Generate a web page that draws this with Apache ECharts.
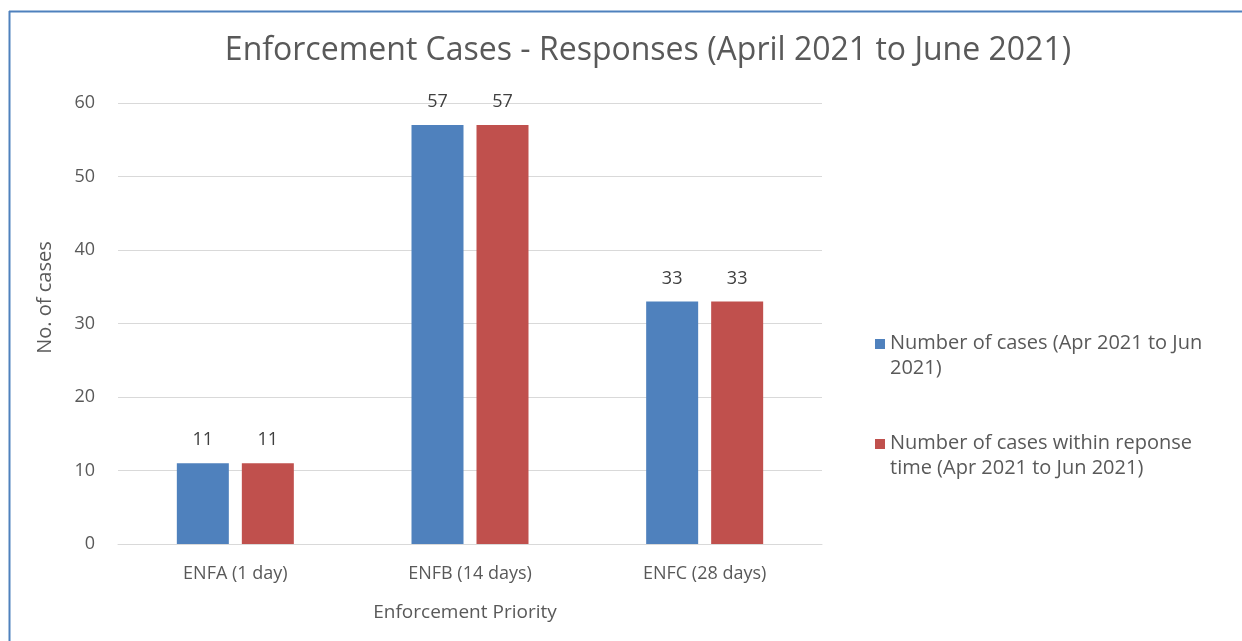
<!DOCTYPE html>
<html><head><meta charset="utf-8">
<script src="https://cdn.jsdelivr.net/npm/echarts@6/dist/echarts.min.js"></script>
<style>html,body{margin:0;padding:0;background:#fff}#c{width:1242px;height:641px}</style>
</head><body><div id="c"></div>
<script>
const categories = ['ENFA (1 day)', 'ENFB (14 days)', 'ENFC (28 days)'];
const totalCases = [11, 57, 33];
const withinTime = [11, 57, 33];
const seriesNames = ['Number of cases (Apr 2021 to Jun 2021)', 'Number of cases within reponse time (Apr 2021 to Jun 2021)'];
const legendLabels = ['Number of cases (Apr 2021 to Jun\n2021)', 'Number of cases within reponse\ntime (Apr 2021 to Jun 2021)'];
const titleText = 'Enforcement Cases - Responses (April 2021 to June 2021)';
const F = 'Open Sans';
const chart = echarts.init(document.getElementById('c'));
const lab = {show:true, position:'top', distance:14, color:'#404040', fontSize:18, fontFamily:F};
chart.setOption({
  animation:false,
  title:{text:titleText, left:643, textAlign:'center', top:30, textStyle:{fontFamily:F, fontSize:32, fontWeight:'normal', color:'#595959'}},
  graphic:[
    {type:'line', shape:{x1:9.5,y1:11,x2:9.5,y2:641}, style:{stroke:'#4F81BD', lineWidth:2}},
    {type:'line', shape:{x1:9,y1:11.5,x2:1242,y2:11.5}, style:{stroke:'#4F81BD', lineWidth:2}}
  ],
  grid:{left:118, right:420, top:103, bottom:97},
  legend:{orient:'vertical', left:870, top:326, itemGap:50, itemWidth:10, itemHeight:34,
    icon:'path://M0,0h10v10h-10zM0,34',
    formatter:function(n){return legendLabels[seriesNames.indexOf(n)];},
    textStyle:{fontFamily:F, fontSize:20, color:'#595959', lineHeight:25}},
  xAxis:{type:'category', data:categories, name:'Enforcement Priority', nameLocation:'middle', nameGap:59,
    nameTextStyle:{fontFamily:F, fontSize:19, color:'#595959', padding:[0,10,0,0]},
    axisLine:{lineStyle:{color:'#d9d9d9'}}, axisTick:{show:false},
    axisLabel:{fontFamily:F, fontSize:18, color:'#595959', margin:21}},
  yAxis:{type:'value', min:0, max:60, interval:10, name:'No. of cases', nameLocation:'middle', nameGap:63,
    nameTextStyle:{fontFamily:F, fontSize:20, color:'#595959', padding:[0,0,0,52]},
    splitLine:{lineStyle:{color:'#d9d9d9'}}, axisLabel:{fontFamily:F, fontSize:18, color:'#595959', margin:23}},
  series:[
    {name:seriesNames[0], type:'bar', data:totalCases, barWidth:52, barGap:'25%', itemStyle:{color:'#4F81BD'}, label:lab},
    {name:seriesNames[1], type:'bar', data:withinTime, barWidth:52, barGap:'25%', itemStyle:{color:'#C0504D'}, label:lab}
  ]
});
</script></body></html>
